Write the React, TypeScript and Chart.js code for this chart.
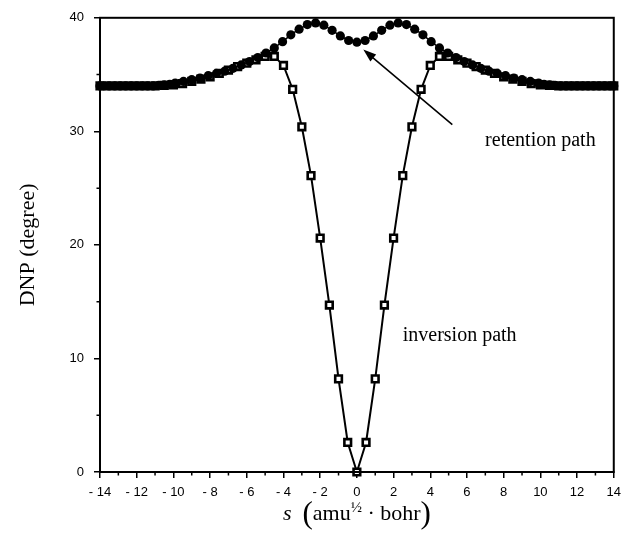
import React, { useEffect, useRef } from "react";
import { Chart, registerables } from "chart.js";

Chart.register(...registerables);

// Inversion path (open squares)
const inversionX = [
  -14, -13.5, -13, -12.5, -12, -11.5, -11, -10.5, -10, -9.5, -9, -8.5, -8, -7.5, -7, -6.5, -6, -5.5, -5, -4.5,
  -4, -3.5, -3, -2.5, -2, -1.5, -1, -0.5, 0, 0.5, 1, 1.5, 2, 2.5, 3, 3.5, 4,
  4.5, 5, 5.5, 6, 6.5, 7, 7.5, 8, 8.5, 9, 9.5, 10, 10.5, 11, 11.5, 12, 12.5, 13, 13.5, 14,
];
const inversionY = [
  34.0, 34.0, 34.0, 34.0, 34.0, 34.0, 34.0, 34.05, 34.1, 34.2, 34.4, 34.6, 34.8, 35.1, 35.4, 35.7, 36.0, 36.3, 36.6, 36.6,
  35.8, 33.7, 30.4, 26.1, 20.6, 14.7, 8.2, 2.6, 0.0, 2.6, 8.2, 14.7, 20.6, 26.1, 30.4, 33.7, 35.8,
  36.6, 36.6, 36.3, 36.0, 35.7, 35.4, 35.1, 34.8, 34.6, 34.4, 34.2, 34.1, 34.05, 34.0, 34.0, 34.0, 34.0, 34.0, 34.0, 34.0,
];

// Retention path (filled circles)
const retentionX = [
  -14, -13.8, -13.5, -13.2, -12.9, -12.6, -12.3, -12.0, -11.7, -11.4, -11.1, -10.8, -10.5, -10.2,
  -9.9, -9.45, -9.0, -8.55, -8.1, -7.65, -7.2, -6.75, -6.3, -5.85, -5.4, -4.95, -4.5, -4.05, -3.6, -3.15,
  -2.7, -2.25, -1.8, -1.35, -0.9, -0.45, 0, 0.45, 0.9, 1.35, 1.8, 2.25, 2.7,
  3.15, 3.6, 4.05, 4.5, 4.95, 5.4, 5.85, 6.3, 6.75, 7.2, 7.65, 8.1, 8.55, 9.0, 9.45, 9.9,
  10.2, 10.5, 10.8, 11.1, 11.4, 11.7, 12.0, 12.3, 12.6, 12.9, 13.2, 13.5, 13.8, 14,
];
const retentionY = [
  34.0, 34.0, 34.0, 34.0, 34.0, 34.0, 34.0, 34.0, 34.0, 34.0, 34.0, 34.05, 34.1, 34.15,
  34.25, 34.4, 34.55, 34.7, 34.9, 35.1, 35.3, 35.55, 35.85, 36.15, 36.5, 36.9, 37.35, 37.9, 38.5, 39.0,
  39.4, 39.55, 39.35, 38.9, 38.4, 38.0, 37.85, 38.0, 38.4, 38.9, 39.35, 39.55, 39.4,
  39.0, 38.5, 37.9, 37.35, 36.9, 36.5, 36.15, 35.85, 35.55, 35.3, 35.1, 34.9, 34.7, 34.55, 34.4, 34.25,
  34.15, 34.1, 34.05, 34.0, 34.0, 34.0, 34.0, 34.0, 34.0, 34.0, 34.0, 34.0, 34.0, 34.0,
];

const xMin = -14;
const xMax = 14;
const xMajorStep = 2;
const xMinorTicks = [-13, -11, -9, -7, -5, -3, -1, 1, 3, 5, 7, 9, 11, 13];
const yMin = 0;
const yMax = 40;
const yMajorStep = 10;
const yMinorTicks = [5, 15, 25, 35];

const yTitle = "DNP (degree)";
const retentionLabel = "retention path";
const inversionLabel = "inversion path";
const retentionLabelAt = [10.0, 29.2];
const inversionLabelAt = [5.6, 12.0];
const arrowFrom = [5.2, 30.6];
const arrowTo = [0.35, 37.2];

const serif = "'Liberation Serif', 'Times New Roman', serif";
const sans = "'Liberation Sans', Arial, Helvetica, sans-serif";

const decorPlugin = {
  id: "decor",
  afterDraw(chart: any) {
    const ctx = chart.ctx;
    const xs = chart.scales.x;
    const ys = chart.scales.y;
    const area = chart.chartArea;
    ctx.save();
    // frame
    ctx.strokeStyle = "#000";
    ctx.lineWidth = 2;
    ctx.strokeRect(area.left, area.top, area.right - area.left, area.bottom - area.top);
    // minor ticks
    ctx.lineWidth = 1.5;
    ctx.beginPath();
    for (const v of xMinorTicks) {
      const px = xs.getPixelForValue(v);
      ctx.moveTo(px, area.bottom);
      ctx.lineTo(px, area.bottom + 3.5);
    }
    for (const v of yMinorTicks) {
      const py = ys.getPixelForValue(v);
      ctx.moveTo(area.left, py);
      ctx.lineTo(area.left - 3.5, py);
    }
    ctx.stroke();

    // annotation texts
    ctx.fillStyle = "#000";
    ctx.font = `20px ${serif}`;
    ctx.textAlign = "center";
    ctx.textBaseline = "middle";
    ctx.fillText(retentionLabel, xs.getPixelForValue(retentionLabelAt[0]), ys.getPixelForValue(retentionLabelAt[1]));
    ctx.fillText(inversionLabel, xs.getPixelForValue(inversionLabelAt[0]), ys.getPixelForValue(inversionLabelAt[1]));

    // arrow
    const x1 = xs.getPixelForValue(arrowFrom[0]);
    const y1 = ys.getPixelForValue(arrowFrom[1]);
    const x2 = xs.getPixelForValue(arrowTo[0]);
    const y2 = ys.getPixelForValue(arrowTo[1]);
    const ang = Math.atan2(y2 - y1, x2 - x1);
    const hl = 13;
    const hw = 4.5;
    ctx.lineWidth = 1.6;
    ctx.beginPath();
    ctx.moveTo(x1, y1);
    ctx.lineTo(x2 - Math.cos(ang) * hl * 0.8, y2 - Math.sin(ang) * hl * 0.8);
    ctx.stroke();
    ctx.beginPath();
    ctx.moveTo(x2, y2);
    ctx.lineTo(x2 - Math.cos(ang) * hl - Math.sin(ang) * hw, y2 - Math.sin(ang) * hl + Math.cos(ang) * hw);
    ctx.lineTo(x2 - Math.cos(ang) * hl + Math.sin(ang) * hw, y2 - Math.sin(ang) * hl - Math.cos(ang) * hw);
    ctx.closePath();
    ctx.fill();

    // x-axis title: s (amu½ · bohr)
    const cx = (area.left + area.right) / 2;
    const by = area.bottom + 48;
    const parts: Array<{ t: string; f: string; dy: number }> = [
      { t: "s", f: `italic 22px ${serif}`, dy: 0 },
      { t: "  ", f: `22px ${serif}`, dy: 0 },
      { t: "(", f: `31px ${serif}`, dy: 3 },
      { t: "amu", f: `22px ${serif}`, dy: 0 },
      { t: "½", f: `15px ${serif}`, dy: -8 },
      { t: " · bohr", f: `22px ${serif}`, dy: 0 },
      { t: ")", f: `31px ${serif}`, dy: 3 },
    ];
    ctx.textAlign = "left";
    ctx.textBaseline = "alphabetic";
    let total = 0;
    const widths: number[] = [];
    for (const p of parts) {
      ctx.font = p.f;
      const w = ctx.measureText(p.t).width;
      widths.push(w);
      total += w;
    }
    let x = cx - total / 2;
    parts.forEach((p, i) => {
      ctx.font = p.f;
      ctx.fillText(p.t, x, by + p.dy);
      x += widths[i];
    });
    ctx.restore();
  },
};

export default function App() {
  const ref = useRef<HTMLCanvasElement | null>(null);
  useEffect(() => {
    document.body.style.margin = "0";
    const canvas = ref.current;
    if (!canvas) return;
    const chart = new Chart(canvas, {
      type: "line",
      data: {
        datasets: [
          {
            label: "retention path",
            data: retentionX.map((x, i) => ({ x, y: retentionY[i] })),
            borderColor: "#000",
            borderWidth: 1.5,
            backgroundColor: "#000",
            pointStyle: "circle",
            pointRadius: 4.6,
            pointBorderWidth: 0,
            pointBackgroundColor: "#000",
            clip: false,
            order: 0,
          },
          {
            label: "inversion path",
            data: inversionX.map((x, i) => ({ x, y: inversionY[i] })),
            borderColor: "#000",
            borderWidth: 2,
            pointStyle: "rect",
            pointRadius: 4.7,
            pointBorderWidth: 2.6,
            pointBorderColor: "#000",
            pointBackgroundColor: "#fff",
            clip: false,
            order: 1,
          },
        ],
      },
      options: {
        animation: false,
        responsive: false,
        devicePixelRatio: 1,
        layout: { padding: { top: 17, right: 10, left: 0, bottom: 0 } },
        plugins: { legend: { display: false }, tooltip: { enabled: false } },
        elements: { line: { tension: 0 } },
        scales: {
          x: {
            type: "linear",
            min: xMin,
            max: xMax,
            ticks: {
              stepSize: xMajorStep,
              color: "#000",
              font: { family: sans, size: 13 },
              padding: 7,
              maxRotation: 0,
              autoSkip: false,
              callback: (v: any) => (v < 0 ? "- " + Math.abs(v) : String(v)),
            },
            grid: { drawOnChartArea: false, drawTicks: true, tickLength: 6, color: "#000", lineWidth: 1.5 },
            border: { color: "#000", width: 2 },
            afterFit: (s: any) => {
              s.height = 85;
            },
          },
          y: {
            type: "linear",
            min: yMin,
            max: yMax,
            ticks: {
              stepSize: yMajorStep,
              color: "#000",
              font: { family: sans, size: 13 },
              padding: 10,
            },
            grid: { drawOnChartArea: false, drawTicks: true, tickLength: 6, color: "#000", lineWidth: 1.5 },
            border: { color: "#000", width: 2 },
            title: {
              display: true,
              text: yTitle,
              color: "#000",
              font: { family: serif, size: 22 },
              padding: { top: 15, bottom: 0 },
            },
            afterFit: (s: any) => {
              s.width = 100;
            },
          },
        },
      },
      plugins: [decorPlugin],
    } as any);
    return () => chart.destroy();
  }, []);
  return (
    <div style={{ width: 628, height: 557, position: "relative" }}>
      <canvas ref={ref} width={628} height={557} style={{ display: "block" }} />
    </div>
  );
}
